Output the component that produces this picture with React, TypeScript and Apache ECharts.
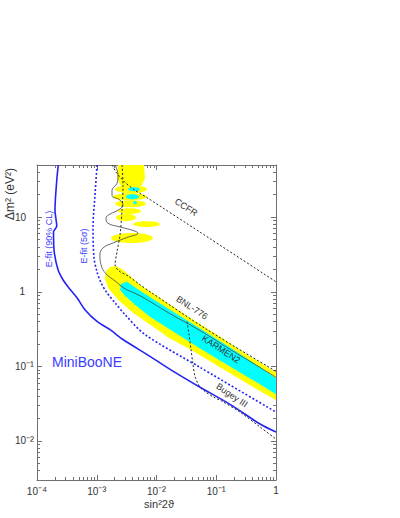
import React, { useEffect, useRef } from 'react';
import * as echarts from 'echarts';

// Axis extents (sin^2 2theta, delta m^2 in eV^2)
const X_RANGE = [1e-4, 1];
const Y_RANGE = [0.003, 50];
const X_MAJOR = [1e-4, 1e-3, 1e-2, 1e-1, 1];
const Y_MAJOR = [1e-2, 1e-1, 1, 10];

// E-fit 90% CL (solid blue)
const EFIT90 = [
  [2.27e-4, 50], [2.14e-4, 31], [2.0e-4, 12.4], [2.14e-4, 7.6], [1.89e-4, 6.3], [1.93e-4, 3.6],
  [2.25e-4, 1.97], [2.72e-4, 1.45], [3.3e-4, 1.17], [4.67e-4, 0.83], [6.35e-4, 0.575],
  [1.01e-3, 0.4], [1.67e-3, 0.31], [2.75e-3, 0.229], [7.8e-3, 0.136], [2.04e-2, 0.083],
  [5.35e-2, 0.0525], [0.17, 0.031], [0.54, 0.0169], [1, 0.0132],
];
// E-fit 5 sigma (dashed blue)
const EFIT5S = [
  [1.01e-3, 50], [9.35e-4, 19.6], [8.65e-4, 7.36], [9.0e-4, 2.84], [1.01e-3, 1.85], [1.18e-3, 1.32],
  [1.48e-3, 0.97], [2.02e-3, 0.713], [2.97e-3, 0.494], [6.42e-3, 0.267], [5.35e-2, 0.097], [1, 0.0244],
];
// CCFR (dashed black)
const CCFR = [
  [1.8e-3, 50], [2.18e-3, 38.6], [2.97e-3, 29.3], [4.36e-3, 22.9], [7.2e-3, 17.9], [5.35e-2, 6.3], [1, 1.36],
];
// BNL-776 (dashed black)
const BNL776 = [
  [2.65e-3, 50], [2.75e-3, 26.7], [2.65e-3, 12.4], [2.45e-3, 5.75], [2.18e-3, 3.41], [2.02e-3, 2.29],
  [2.36e-3, 1.9], [3.33e-3, 1.63], [5.3e-3, 1.24], [7.8e-3, 1.0], [7.0e-2, 0.311], [1, 0.0858],
];
// KARMEN2 (solid dark line)
const KARMEN2 = [
  [2.02e-3, 50], [2.27e-3, 36.3], [2.18e-3, 28.4], [1.8e-3, 22.9], [1.8e-3, 19.6], [2.45e-3, 16.9],
  [2.75e-3, 14.5], [2.27e-3, 12.4], [1.67e-3, 11.0], [1.43e-3, 9.7], [1.54e-3, 8.3], [2.45e-3, 7.4],
  [4.36e-3, 6.5], [4.9e-3, 6.1], [3.33e-3, 5.4], [1.87e-3, 4.5], [1.27e-3, 3.86], [1.13e-3, 3.11],
  [1.18e-3, 2.29], [1.43e-3, 1.74], [2.02e-3, 1.4], [2.97e-3, 1.1], [5.3e-3, 0.885], [1.68e-2, 0.509],
  [5.35e-2, 0.302], [0.17, 0.169], [0.367, 0.117], [1, 0.0713],
];
// Bugey III (dashed black)
const BUGEY = [
  [3.24e-2, 0.398], [3.5e-2, 0.267], [3.78e-2, 0.169], [4.08e-2, 0.106], [4.41e-2, 0.0736],
  [5.14e-2, 0.0558], [6.73e-2, 0.045], [9.16e-2, 0.0386], [0.125, 0.0341], [0.249, 0.0244],
  [0.54, 0.0154], [1, 0.0106],
];
// LSND allowed regions: outer (yellow) and inner (cyan)
const YELLOW_BAND = [
  [1.67e-3, 2.15], [2.1e-3, 2.22], [2.75e-3, 1.97], [5.3e-3, 1.24], [1.14e-2, 0.83], [3.64e-2, 0.45],
  [0.1155, 0.251], [0.367, 0.136], [1, 0.0832], [1, 0.0352], [0.367, 0.0558], [0.1155, 0.097],
  [3.64e-2, 0.169], [1.68e-2, 0.236], [1.02e-2, 0.311], [4.04e-3, 0.525], [2.27e-3, 0.78],
  [1.54e-3, 1.13], [1.37e-3, 1.49], [1.43e-3, 1.9],
];
const YELLOW_TOP = [
  [2.27e-3, 50], [6.18e-3, 50], [6.42e-3, 33], [5.5e-3, 25.9], [2.55e-3, 25.9], [2.18e-3, 33],
];
// islands: [sin2 min, sin2 max, dm2 min, dm2 max]
const YELLOW_ISLANDS = [
  [2.02e-3, 6.93e-3, 20.9, 26.7], [1.87e-3, 6.93e-3, 16.9, 20.9], [2.02e-3, 6.67e-3, 13.6, 16.9],
  [2.27e-3, 5.5e-3, 11.0, 13.2], [2.1e-3, 4.54e-3, 8.84, 11.0], [4.04e-3, 1.14e-2, 7.36, 8.84],
  [1.73e-3, 8.73e-3, 4.5, 6.12],
];
const CYAN_BAND = [
  [2.55e-3, 1.28], [3.21e-3, 1.36], [5.3e-3, 1.03], [1.68e-2, 0.575], [5.35e-2, 0.321], [0.17, 0.179],
  [0.54, 0.097], [1, 0.0692], [1, 0.0424], [0.54, 0.0575], [0.17, 0.1], [5.35e-2, 0.174],
  [1.68e-2, 0.311], [7.78e-3, 0.464], [4.36e-3, 0.671], [2.97e-3, 0.885], [2.45e-3, 1.06],
];
const CYAN_ISLANDS = [
  [3.33e-3, 5.3e-3, 22.2, 25.1], [3.09e-3, 5.09e-3, 17.4, 20.3], [4.04e-3, 4.72e-3, 14.9, 16.3],
];

const BLUE = '#2424f2';
const BLUE_TEXT = '#3b3bff';
const DARK = '#333333';
const FONT = '"Liberation Sans", Arial, Helvetica, sans-serif';

const LABELS = [
  { text: 'CCFR', s: 3.12e-2, dm: 13.6, rot: -33, color: DARK, size: 9 },
  { text: 'BNL-776', s: 3.93e-2, dm: 0.612, rot: -33, color: DARK, size: 9 },
  { text: 'KARMEN2', s: 0.12, dm: 0.169, rot: -33, color: DARK, size: 9 },
  { text: 'Bugey III', s: 0.183, dm: 0.041, rot: -34, color: DARK, size: 9 },
  { text: 'MiniBooNE', s: 6.87e-4, dm: 0.113, rot: 0, color: BLUE_TEXT, size: 14 },
  { text: 'E-fit (90% CL)', s: 1.59e-4, dm: 5.09, rot: 90, color: BLUE_TEXT, size: 9 },
  { text: 'E-fit (5\u03c3)', s: 6.12e-4, dm: 4.11, rot: 90, color: BLUE_TEXT, size: 9 },
];

const SUP: Record<string, string> = {
  '-': '\u207b', '0': '\u2070', '1': '\u00b9', '2': '\u00b2', '3': '\u00b3', '4': '\u2074',
  '5': '\u2075', '6': '\u2076', '7': '\u2077', '8': '\u2078', '9': '\u2079',
};
const powLabel = (e: number) =>
  e === 0 ? '{r1|1}' : e === 1 ? '{r2|10}' : '{b|10}{u|' + String(e).split('').map((c) => SUP[c]).join('') + '}';

const lg = (v: number) => Math.log10(v);
const toLog = (pts: number[][]) => pts.map(([s, d]) => [lg(s), lg(d)]);

function minorTicks(lo: number, hi: number) {
  const out: number[] = [];
  for (let n = -5; n <= 2; n++) {
    for (let k = 2; k <= 9; k++) {
      const v = k * Math.pow(10, n);
      if (v >= lo * 0.999 && v <= hi * 1.001) out.push(lg(v));
    }
  }
  return out;
}

function lineSeries(pts: number[][], color: string, width: number, type: any, smooth: number, z = 5) {
  return {
    type: 'line',
    data: toLog(pts),
    showSymbol: false,
    symbol: 'none',
    smooth,
    clip: true,
    silent: true,
    z,
    lineStyle: { color, width, type },
  };
}

function polySeries(pts: number[][], color: string, z: number) {
  return {
    type: 'custom',
    coordinateSystem: 'cartesian2d',
    data: toLog(pts),
    clip: true,
    silent: true,
    z,
    renderItem: (params: any, api: any) => {
      if (params.dataIndex !== 0) return null;
      const points = pts.map(([s, d]) => api.coord([lg(s), lg(d)]));
      return { type: 'polygon', shape: { points }, style: { fill: color } };
    },
  };
}

function islandSeries(boxes: number[][], color: string, z: number) {
  return {
    type: 'custom',
    coordinateSystem: 'cartesian2d',
    data: boxes.map(([s0, s1, d0, d1]) => [lg(s0), lg(s1), lg(d0), lg(d1)]),
    encode: { x: [0, 1], y: [2, 3] },
    clip: true,
    silent: true,
    z,
    renderItem: (params: any, api: any) => {
      const a = api.coord([api.value(0), api.value(3)]);
      const b = api.coord([api.value(1), api.value(2)]);
      return {
        type: 'ellipse',
        shape: { cx: (a[0] + b[0]) / 2, cy: (a[1] + b[1]) / 2, rx: Math.abs(b[0] - a[0]) / 2, ry: Math.abs(b[1] - a[1]) / 2 },
        style: { fill: color },
      };
    },
  };
}

function labelSeries() {
  return {
    type: 'custom',
    coordinateSystem: 'cartesian2d',
    data: LABELS.map((l) => [lg(l.s), lg(l.dm)]),
    silent: true,
    z: 10,
    renderItem: (params: any, api: any) => {
      const l = LABELS[params.dataIndex];
      const p = api.coord([api.value(0), api.value(1)]);
      return {
        type: 'text',
        x: p[0],
        y: p[1],
        rotation: (l.rot * Math.PI) / 180,
        style: {
          text: l.text,
          fill: l.color,
          fontSize: l.size,
          fontFamily: FONT,
          align: 'center',
          verticalAlign: 'middle',
        },
      };
    },
  };
}

const AXIS_COLOR = '#707070';
const RICH = {
  b: { fontSize: 10, color: DARK, fontFamily: FONT },
  u: { fontSize: 12, color: DARK, fontFamily: FONT },
  r1: { fontSize: 10, color: DARK, fontFamily: FONT },
  r2: { fontSize: 10, color: DARK, fontFamily: FONT },
};
const RICH_Y = {
  ...RICH,
  r1: { fontSize: 10, color: DARK, fontFamily: FONT, padding: [0, 9, 0, 0] },
  r2: { fontSize: 10, color: DARK, fontFamily: FONT, padding: [0, 8, 0, 0] },
};

function xAxes() {
  const min = lg(X_RANGE[0]);
  const max = lg(X_RANGE[1]);
  const majors = X_MAJOR.map(lg);
  const minors = minorTicks(X_RANGE[0], X_RANGE[1]);
  const base = { type: 'value', min, max, splitLine: { show: false } };
  const mk = (pos: string, vals: number[], len: number, label: boolean, line: boolean) => ({
    ...base,
    position: pos,
    axisLine: { show: line, onZero: false, lineStyle: { color: AXIS_COLOR, width: 1 } },
    axisTick: { show: true, inside: true, length: len, customValues: vals, lineStyle: { color: AXIS_COLOR } },
    axisLabel: label
      ? {
          show: true,
          customValues: majors,
          margin: 5,
          rich: RICH,
          formatter: (v: number) => powLabel(Math.round(v)),
        }
      : { show: false },
  });
  return [
    mk('bottom', majors, 5, true, true),
    mk('bottom', minors, 3, false, false),
    mk('top', majors, 5, false, true),
    mk('top', minors, 3, false, false),
  ];
}

function yAxes() {
  const min = lg(Y_RANGE[0]);
  const max = lg(Y_RANGE[1]);
  const majors = Y_MAJOR.map(lg);
  const minors = minorTicks(Y_RANGE[0], Y_RANGE[1]);
  const base = { type: 'value', min, max, splitLine: { show: false } };
  const mk = (pos: string, vals: number[], len: number, label: boolean, line: boolean) => ({
    ...base,
    position: pos,
    axisLine: { show: line, onZero: false, lineStyle: { color: AXIS_COLOR, width: 1 } },
    axisTick: { show: true, inside: true, length: len, customValues: vals, lineStyle: { color: AXIS_COLOR } },
    axisLabel: label
      ? {
          show: true,
          customValues: majors,
          margin: 3,
          rich: RICH_Y,
          formatter: (v: number) => powLabel(Math.round(v)),
        }
      : { show: false },
  });
  return [
    mk('left', majors, 5, true, true),
    mk('left', minors, 3, false, false),
    mk('right', majors, 5, false, true),
    mk('right', minors, 3, false, false),
  ];
}

export default function App() {
  const ref = useRef<HTMLDivElement>(null);
  useEffect(() => {
    if (!ref.current) return;
    const chart = echarts.init(ref.current, undefined, { renderer: 'svg' });
    chart.setOption({
      animation: false,
      backgroundColor: '#ffffff',
      grid: { left: 37, top: 165, width: 239, height: 315, containLabel: false },
      xAxis: xAxes(),
      yAxis: yAxes(),
      graphic: [
        {
          type: 'text',
          x: 10,
          y: 194,
          rotation: Math.PI / 2,
          style: { text: '\u0394m\u00b2 (eV\u00b2)', fill: DARK, fontSize: 12, fontFamily: FONT, align: 'center', verticalAlign: 'middle' },
        },
        {
          type: 'text',
          x: 159,
          y: 504,
          style: { text: 'sin\u00b22\u03d1', fill: DARK, fontSize: 11, fontFamily: FONT, align: 'center', verticalAlign: 'middle' },
        },
      ],
      series: [
        polySeries(YELLOW_BAND, '#ffff00', 1),
        polySeries(YELLOW_TOP, '#ffff00', 1),
        islandSeries(YELLOW_ISLANDS, '#ffff00', 1),
        polySeries(CYAN_BAND, '#00ffff', 2),
        islandSeries(CYAN_ISLANDS, '#00ffff', 2),
        lineSeries(EFIT90, BLUE, 1.6, 'solid', 0.3),
        lineSeries(EFIT5S, BLUE, 1.6, [2, 2], 0.3),
        lineSeries(CCFR, '#222222', 1, [2, 2], 0.2),
        lineSeries(BNL776, '#222222', 1, [2, 2], 0.3),
        lineSeries(KARMEN2, '#444444', 0.8, 'solid', 0.45),
        lineSeries(BUGEY, '#222222', 1, [2, 2], 0.3),
        labelSeries(),
      ],
    });
    return () => chart.dispose();
  }, []);
  return <div ref={ref} style={{ position: 'absolute', left: 0, top: 0, width: 400, height: 518 }} />;
}
